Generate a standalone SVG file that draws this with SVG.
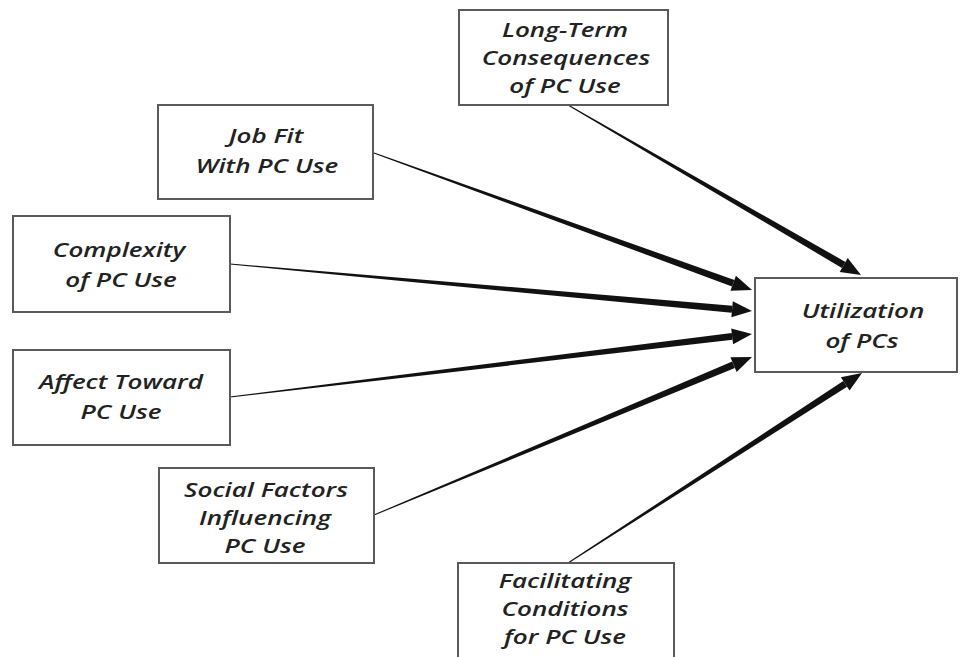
<svg xmlns="http://www.w3.org/2000/svg" width="960" height="657" viewBox="0 0 960 657">
  <style>
    .box { fill: #ffffff; stroke: #5a5a5a; stroke-width: 2; }
    .lbl { font-family: "Open Sans", "Noto Sans", "DejaVu Sans", sans-serif; font-style: italic; font-weight: 600; font-size: 20px; fill: #222; text-anchor: middle; }
    .shaft, .head { fill: #111; }
  </style>
  <rect width="960" height="657" fill="#ffffff"/>

  <!-- connectors: tapered shafts with solid heads -->
  <g id="connectors">
    <polygon class="shaft" points="374.17,152.53 734.39,279.90 732.01,286.48 373.83,153.47"/>
    <polygon class="head" points="752,290 735.93,275.67 730.47,290.71"/>
    <polygon class="shaft" points="230.04,263.50 732.39,305.72 731.77,312.70 229.96,264.50"/>
    <polygon class="head" points="752,311 732.80,301.24 731.36,317.18"/>
    <polygon class="shaft" points="229.94,396.50 731.72,332.93 732.56,339.87 230.06,397.50"/>
    <polygon class="head" points="752,334 731.18,328.46 733.10,344.34"/>
    <polygon class="shaft" points="373.81,514.54 732.20,361.48 734.90,367.94 374.19,515.46"/>
    <polygon class="head" points="752,357 730.46,357.33 736.64,372.09"/>
    <polygon class="shaft" points="568.25,104.57 845.46,261.93 841.94,267.99 567.75,105.43"/>
    <polygon class="head" points="861,275 847.71,258.04 839.69,271.88"/>
    <polygon class="shaft" points="567.73,562.58 843.30,380.92 847.10,386.80 568.27,563.42"/>
    <polygon class="head" points="862,373 840.86,377.14 849.54,390.58"/>
  </g>

  <!-- labels are set in a widened face: each line is scaled 1.3x horizontally about its centre -->
  <g id="long-term">
    <rect class="box" x="459" y="10" width="209" height="95"/>
    <text class="lbl" transform="matrix(1.3 0 0 1 565 0)" x="0" y="37">Long-Term</text>
    <text class="lbl" transform="matrix(1.3 0 0 1 566 0)" x="0" y="65">Consequences</text>
    <text class="lbl" transform="matrix(1.3 0 0 1 565 0)" x="0" y="93">of PC Use</text>
  </g>

  <g id="job-fit">
    <rect class="box" x="158" y="105" width="215" height="94"/>
    <text class="lbl" transform="matrix(1.3 0 0 1 266 0)" x="0" y="143">Job Fit</text>
    <text class="lbl" transform="matrix(1.3 0 0 1 267 0)" x="0" y="173">With PC Use</text>
  </g>

  <g id="complexity">
    <rect class="box" x="13" y="216" width="217" height="96"/>
    <text class="lbl" transform="matrix(1.3 0 0 1 119 0)" x="0" y="257">Complexity</text>
    <text class="lbl" transform="matrix(1.3 0 0 1 121 0)" x="0" y="287">of PC Use</text>
  </g>

  <g id="affect">
    <rect class="box" x="13" y="350" width="217" height="95"/>
    <text class="lbl" transform="matrix(1.3 0 0 1 121 0)" x="0" y="389">Affect Toward</text>
    <text class="lbl" transform="matrix(1.3 0 0 1 121 0)" x="0" y="419">PC Use</text>
  </g>

  <g id="social">
    <rect class="box" x="159" y="468" width="215" height="95"/>
    <text class="lbl" transform="matrix(1.3 0 0 1 266 0)" x="0" y="497">Social Factors</text>
    <text class="lbl" transform="matrix(1.3 0 0 1 265 0)" x="0" y="525">Influencing</text>
    <text class="lbl" transform="matrix(1.3 0 0 1 265 0)" x="0" y="553">PC Use</text>
  </g>

  <g id="facilitating">
    <rect class="box" x="458" y="563" width="216" height="100"/>
    <text class="lbl" transform="matrix(1.3 0 0 1 565 0)" x="0" y="588">Facilitating</text>
    <text class="lbl" transform="matrix(1.3 0 0 1 565 0)" x="0" y="616">Conditions</text>
    <text class="lbl" transform="matrix(1.3 0 0 1 565 0)" x="0" y="644">for PC Use</text>
  </g>

  <g id="utilization">
    <rect class="box" x="755" y="278" width="202" height="94"/>
    <text class="lbl" transform="matrix(1.3 0 0 1 863 0)" x="0" y="318">Utilization</text>
    <text class="lbl" transform="matrix(1.3 0 0 1 862 0)" x="0" y="348">of PCs</text>
  </g>
</svg>
